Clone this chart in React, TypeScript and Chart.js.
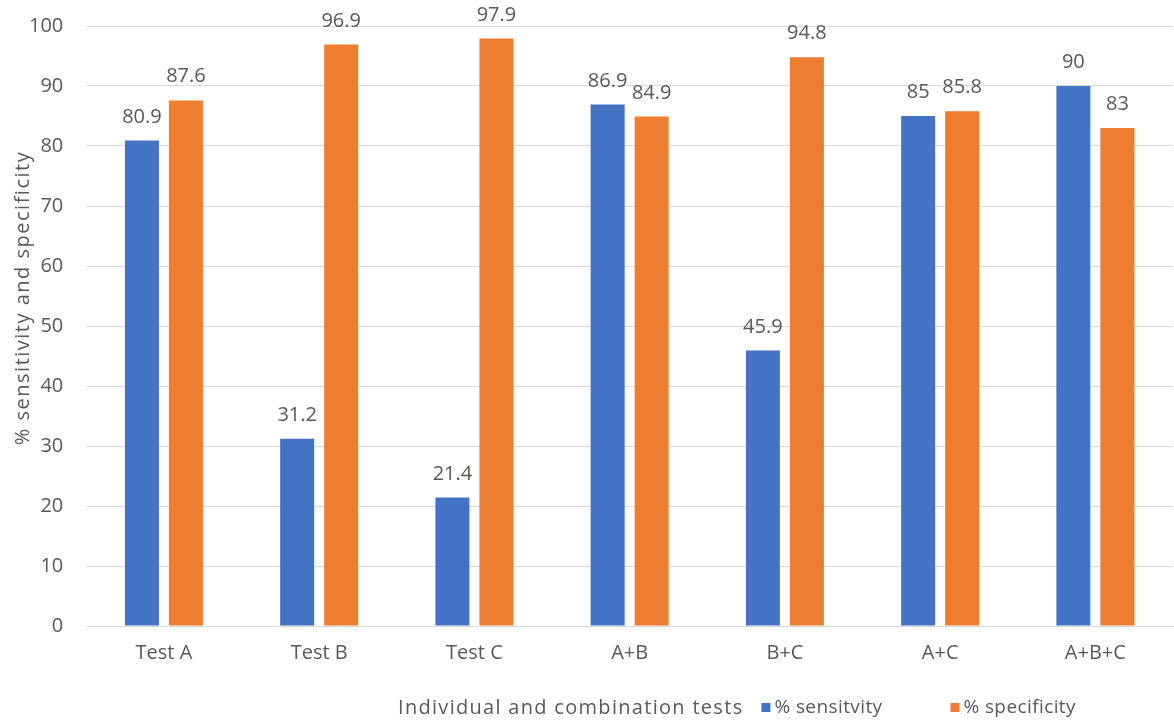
import React, { useEffect, useRef } from "react";
import { Chart, registerables } from "chart.js";

Chart.register(...registerables);

const categories = ["Test A", "Test B", "Test C", "A+B", "B+C", "A+C", "A+B+C"];
const sensitivity = [80.9, 31.2, 21.4, 86.9, 45.9, 85, 90];
const specificity = [87.6, 96.9, 97.9, 84.9, 94.8, 85.8, 83];
const seriesNames = ["% sensitvity", "% specificity"];
const seriesColors = ["#4472C4", "#ED7D31"];
const xTitle = "Individual and combination tests";
const yTitle = "% sensitivity and specificity";

const FONT = "'Open Sans', 'Noto Sans', sans-serif";
const TEXT = "#595959";

// Value labels above each bar
const valueLabels = {
  id: "valueLabels",
  afterDatasetsDraw(chart: any) {
    const ctx = chart.ctx;
    ctx.save();
    ctx.font = `20px ${FONT}`;
    ctx.fillStyle = TEXT;
    ctx.textAlign = "center";
    ctx.textBaseline = "alphabetic";
    chart.data.datasets.forEach((ds: any, i: number) => {
      const meta = chart.getDatasetMeta(i);
      meta.data.forEach((bar: any, j: number) => {
        ctx.fillText(String(ds.data[j]), bar.x, bar.y - 18);
      });
    });
    ctx.restore();
  },
};

// Rotated y-axis title on the left edge
const yAxisTitle = {
  id: "yAxisTitle",
  afterDraw(chart: any) {
    const ctx = chart.ctx;
    const area = chart.chartArea;
    ctx.save();
    ctx.font = `20px ${FONT}`;
    (ctx as any).letterSpacing = "1.5px";
    ctx.fillStyle = TEXT;
    ctx.textAlign = "center";
    ctx.textBaseline = "middle";
    ctx.translate(23, (area.top + area.bottom) / 2 - 28);
    ctx.rotate(-Math.PI / 2);
    ctx.fillText(yTitle, 0, 0);
    ctx.restore();
  },
};

// Bottom row: axis title followed by legend entries
const bottomRow = {
  id: "bottomRow",
  afterDraw(chart: any) {
    const ctx = chart.ctx;
    ctx.save();
    ctx.font = `20px ${FONT}`;
    (ctx as any).letterSpacing = "1.3px";
    ctx.fillStyle = TEXT;
    ctx.textBaseline = "middle";
    ctx.textAlign = "left";
    const y = 708;
    let x = 398;
    ctx.fillText(xTitle, x, y);
    x += ctx.measureText(xTitle).width + 18;
    const gaps = [68, 0];
    ctx.font = `19px ${FONT}`;
    (ctx as any).letterSpacing = "0.4px";
    seriesNames.forEach((name, i) => {
      ctx.fillStyle = seriesColors[i];
      ctx.fillRect(x, y - 5, 9, 9);
      x += 13;
      ctx.fillStyle = TEXT;
      ctx.fillText(name, x, y);
      x += ctx.measureText(name).width + gaps[i];
    });
    ctx.restore();
  },
};

export default function App() {
  const ref = useRef<HTMLCanvasElement | null>(null);

  useEffect(() => {
    document.body.style.margin = "0";
    const chart = new Chart(ref.current as HTMLCanvasElement, {
      type: "bar",
      data: {
        labels: categories,
        datasets: [
          {
            label: seriesNames[0],
            data: sensitivity,
            backgroundColor: seriesColors[0],
            categoryPercentage: 0.567,
            barPercentage: 0.773,
          },
          {
            label: seriesNames[1],
            data: specificity,
            backgroundColor: seriesColors[1],
            categoryPercentage: 0.567,
            barPercentage: 0.773,
          },
        ],
      },
      options: {
        animation: false,
        responsive: false,
        layout: { padding: { top: 0, right: 1, bottom: 42, left: 6 } },
        plugins: {
          legend: { display: false },
          tooltip: { enabled: false },
        },
        scales: {
          x: {
            grid: { display: false, drawTicks: false, tickLength: 0 },
            border: { color: "#d9d9d9" },
            ticks: { color: TEXT, font: { family: FONT, size: 20 }, padding: 15 },
          },
          y: {
            min: 0,
            max: 100,
            ticks: { stepSize: 10, color: TEXT, font: { family: FONT, size: 20 }, padding: 23 },
            grid: { color: "#d9d9d9", drawTicks: false },
            border: { display: false },
            afterFit(scale: any) {
              // keep the top gridline close to the canvas edge
              scale.paddingTop = 26;
              scale.paddingBottom = 0;
            },
          },
        },
      },
      plugins: [valueLabels, yAxisTitle, bottomRow],
    });
    return () => chart.destroy();
  }, []);

  return <canvas ref={ref} width={1174} height={722} style={{ display: "block" }} />;
}
